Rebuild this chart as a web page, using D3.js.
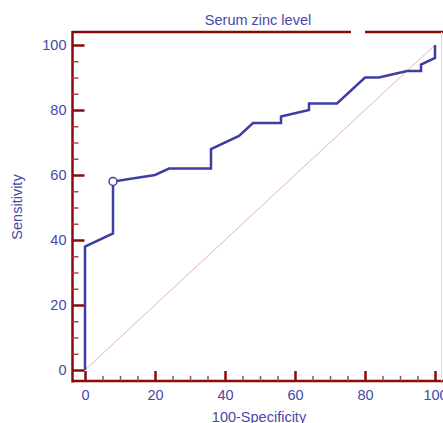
<!DOCTYPE html>
<html>
<head>
<meta charset="utf-8">
<script src="https://cdn.jsdelivr.net/npm/d3@7"></script>
<style>
  body { margin: 0; background: #fff; }
  svg { display: block; font-family: "Liberation Sans", Arial, sans-serif; }
</style>
</head>
<body>
<div id="chart"></div>
<script>
// ROC curve points (100-Specificity, Sensitivity)
var fpr  = [0, 0, 8, 8, 20, 24, 36, 36, 44, 48, 56, 56, 64, 64, 72, 80, 84, 92, 96, 96, 100, 100]
var sens = [0, 38, 42, 58, 60, 62, 62, 68, 72, 76, 76, 78, 80, 82, 82, 90, 90, 92, 92, 94, 96, 100]
var cutPoint = [8, 58]
var majorTicks = [0, 20, 40, 60, 80, 100]
var minorTicks = [5, 10, 15, 25, 30, 35, 45, 50, 55, 65, 70, 75, 85, 90, 95]

var width = 443, height = 423
var axisCol = "#8a0a0a", textCol = "#4848a8", lineCol = "#3e3ea2"

var svg = d3.select("#chart").append("svg")
  .attr("width", width)
  .attr("height", height)

var x = d3.scaleLinear().domain([0, 100]).range([85, 435])
var y = d3.scaleLinear().domain([0, 100]).range([370, 45])

var axisX = 72.5, axisY = 381, topY = 32

// frame
svg.append("line").attr("x1", axisX).attr("x2", axisX).attr("y1", topY - 1).attr("y2", axisY + 1.5)
  .attr("stroke", axisCol).attr("stroke-width", 2.5)
svg.append("line").attr("x1", axisX).attr("x2", 351).attr("y1", topY).attr("y2", topY)
  .attr("stroke", axisCol).attr("stroke-width", 2.5)
svg.append("line").attr("x1", 365).attr("x2", width).attr("y1", topY).attr("y2", topY)
  .attr("stroke", axisCol).attr("stroke-width", 2.5)
svg.append("line").attr("x1", axisX).attr("x2", width).attr("y1", axisY).attr("y2", axisY)
  .attr("stroke", axisCol).attr("stroke-width", 2.5)
svg.append("line").attr("x1", 441.5).attr("x2", 441.5).attr("y1", topY).attr("y2", axisY)
  .attr("stroke", "#e6d6dc").attr("stroke-width", 1)

// axes
var gyMinor = svg.append("g").attr("transform", "translate(" + axisX + ",0)")
  .call(d3.axisLeft(y).tickValues(minorTicks).tickSize(-6).tickFormat(""))
var gy = svg.append("g").attr("transform", "translate(" + axisX + ",0)")
  .call(d3.axisLeft(y).tickValues(majorTicks).tickSize(-12).tickPadding(6))
var gxMinor = svg.append("g").attr("transform", "translate(0," + axisY + ")")
  .call(d3.axisBottom(x).tickValues(minorTicks).tickSize(-5).tickFormat(""))
var gx = svg.append("g").attr("transform", "translate(0," + axisY + ")")
  .call(d3.axisBottom(x).tickValues(majorTicks).tickSize(-10).tickPadding(9))

svg.selectAll(".domain").remove()
gy.selectAll(".tick line").attr("stroke", axisCol).attr("stroke-width", 2.5)
gx.selectAll(".tick line").attr("stroke", axisCol).attr("stroke-width", 2.5)
gyMinor.selectAll(".tick line").attr("stroke", "#a84848").attr("stroke-width", 1.5)
gxMinor.selectAll(".tick line").attr("stroke", "#a84848").attr("stroke-width", 1.5)
svg.selectAll(".tick text").attr("fill", textCol).attr("font-size", 14.5)
  .attr("font-family", "Liberation Sans, Arial, sans-serif")

// diagonal reference
svg.append("line")
  .attr("x1", x(0)).attr("y1", y(0)).attr("x2", x(100)).attr("y2", y(100))
  .attr("stroke", "#e2b4bc").attr("stroke-width", 1)

// ROC curve
var pts = fpr.map(function(d, i) { return [d, sens[i]] })
var line = d3.line().x(function(d) { return x(d[0]) }).y(function(d) { return y(d[1]) })
svg.append("path").datum(pts)
  .attr("d", line)
  .attr("fill", "none")
  .attr("stroke", lineCol)
  .attr("stroke-width", 2.5)
  .attr("stroke-linejoin", "miter")

svg.append("circle")
  .attr("cx", x(cutPoint[0])).attr("cy", y(cutPoint[1])).attr("r", 4)
  .attr("fill", "#fff").attr("stroke", lineCol).attr("stroke-width", 1.5)

// titles
svg.append("text").attr("x", 258).attr("y", 25)
  .attr("text-anchor", "middle").attr("fill", textCol).attr("font-size", 14.5)
  .text("Serum zinc level")
svg.append("text").attr("x", 259).attr("y", 422)
  .attr("text-anchor", "middle").attr("fill", textCol).attr("font-size", 14.5)
  .text("100-Specificity")
svg.append("text")
  .attr("transform", "translate(22," + 207 + ") rotate(-90)")
  .attr("text-anchor", "middle").attr("fill", textCol).attr("font-size", 14.5)
  .text("Sensitivity")
</script>
</body>
</html>
